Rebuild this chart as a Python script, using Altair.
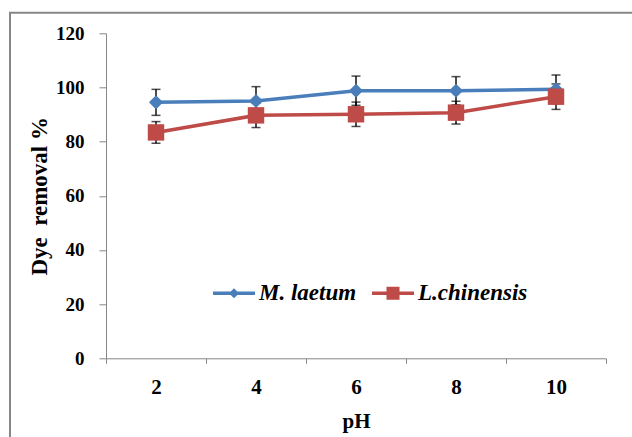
import altair as alt
import pandas as pd

ph = ["2", "4", "6", "8", "10"]
series_names = ["M. laetum", "L.chinensis"]
m_laetum = [94.5, 95.0, 98.8, 98.8, 99.3]
m_laetum_err = [4.8, 5.3, 5.4, 5.2, 5.3]
l_chinensis = [83.4, 89.7, 90.1, 90.7, 96.6]
l_chinensis_err = [4.0, 4.5, 4.5, 4.2, 4.7]
y_ticks = [0, 20, 40, 60, 80, 100, 120]

rows = []
for name, vals, errs in [(series_names[0], m_laetum, m_laetum_err),
                         (series_names[1], l_chinensis, l_chinensis_err)]:
    for p, v, e in zip(ph, vals, errs):
        rows.append({"pH": p, "series": name, "value": v, "lo": v - e, "hi": v + e})
df = pd.DataFrame(rows)

BLUE = "#4A7EBB"
RED = "#BE4B48"
GRAY = "#878787"
FONT = "Liberation Serif, Times New Roman, serif"

color_scale = alt.Scale(domain=series_names, range=[BLUE, RED])
legend_paths = [
    "M-1,-0.085L1,-0.085L1,0.085L-1,0.085Z M0,-0.24L0.24,0L0,0.24L-0.24,0Z",
    "M-1,-0.085L1,-0.085L1,0.085L-1,0.085Z M-0.31,-0.31L0.31,-0.31L0.31,0.31L-0.31,0.31Z",
]

x_enc = alt.X(
    "pH:N", sort=ph, bandPosition=0.5,
    scale=alt.Scale(type="band", domain=ph, paddingInner=0, paddingOuter=0),
    axis=alt.Axis(
        title="pH", labelAngle=0, tickBand="extent", tickSize=5, grid=False,
        domainColor=GRAY, tickColor=GRAY, labelColor="black",
        labelFont=FONT, labelFontSize=21, labelFontWeight="bold", labelPadding=13,
        titleFont=FONT, titleFontSize=21, titleFontWeight="bold", titleColor="black",
        titleY=69, titleBaseline="alphabetic",
    ),
)
y_scale = alt.Scale(domain=[0, 120], nice=False, zero=True)
y_axis = alt.Axis(
    title="Dye\u00a0 removal %", values=y_ticks, tickSize=7, grid=False,
    domainColor=GRAY, tickColor=GRAY, labelColor="black",
    labelFont=FONT, labelFontSize=19, labelFontWeight="bold", labelPadding=15,
    titleFont=FONT, titleFontSize=23, titleFontWeight="bold", titleColor="black",
    titleX=-60, titleY=162.5, titleAngle=270, titleAlign="center", titleBaseline="alphabetic",
)

leg = alt.Legend(
    title=None, orient="none", legendX=107, legendY=239, direction="horizontal",
    symbolSize=1764, symbolStrokeWidth=0, symbolOpacity=1,
    labelFont=FONT, labelFontSize=23, labelFontStyle="italic", labelFontWeight="bold",
    labelColor="black", labelOffset=4, columnPadding=15, padding=0,
)

base = alt.Chart(df)

frame = alt.Chart(pd.DataFrame({"f": [0]})).mark_rect(
    fill=None, stroke=GRAY, strokeWidth=2
).encode(x=alt.value(-96), y=alt.value(-20.5), x2=alt.value(700), y2=alt.value(600))

err_rule = base.mark_rule(color="black", strokeWidth=1.4).encode(
    x=x_enc, y=alt.Y("lo:Q", scale=y_scale, axis=y_axis), y2="hi:Q"
)
cap_lo = base.mark_tick(color="black", size=9, thickness=1.5).encode(
    x=x_enc, y=alt.Y("lo:Q", scale=y_scale)
)
cap_hi = base.mark_tick(color="black", size=9, thickness=1.5).encode(
    x=x_enc, y=alt.Y("hi:Q", scale=y_scale)
)
lines = base.mark_line(strokeWidth=3.5).encode(
    x=x_enc, y=alt.Y("value:Q", scale=y_scale),
    color=alt.Color("series:N", scale=color_scale, legend=leg),
    detail="series:N",
)
pts_m = base.transform_filter(alt.datum.series == series_names[0]).mark_point(
    filled=True, opacity=1, shape="diamond", size=200
).encode(
    x=x_enc, y=alt.Y("value:Q", scale=y_scale),
    color=alt.Color("series:N", scale=color_scale, legend=leg),
)
pts_l = base.transform_filter(alt.datum.series == series_names[1]).mark_point(
    filled=True, opacity=1, shape="square", size=270
).encode(
    x=x_enc, y=alt.Y("value:Q", scale=y_scale),
    color=alt.Color("series:N", scale=color_scale, legend=leg),
)
legend_layer = base.mark_point(filled=True, opacity=1).encode(
    x=x_enc, y=alt.Y("value:Q", scale=y_scale),
    color=alt.Color("series:N", scale=color_scale, legend=leg),
    shape=alt.Shape("series:N", scale=alt.Scale(domain=series_names, range=legend_paths), legend=leg),
    size=alt.value(0),
)

chart = alt.layer(
    frame, err_rule, cap_lo, cap_hi, lines, pts_m, pts_l, legend_layer
).properties(
    width=500, height=325,
    autosize=alt.AutoSizeParams(type="none"),
    padding={"left": 106, "top": 33.3, "right": 26, "bottom": 78.7},
    background="white",
).configure_view(stroke=None)

chart.save("out.html", embed_options={"renderer": "svg", "actions": False})
